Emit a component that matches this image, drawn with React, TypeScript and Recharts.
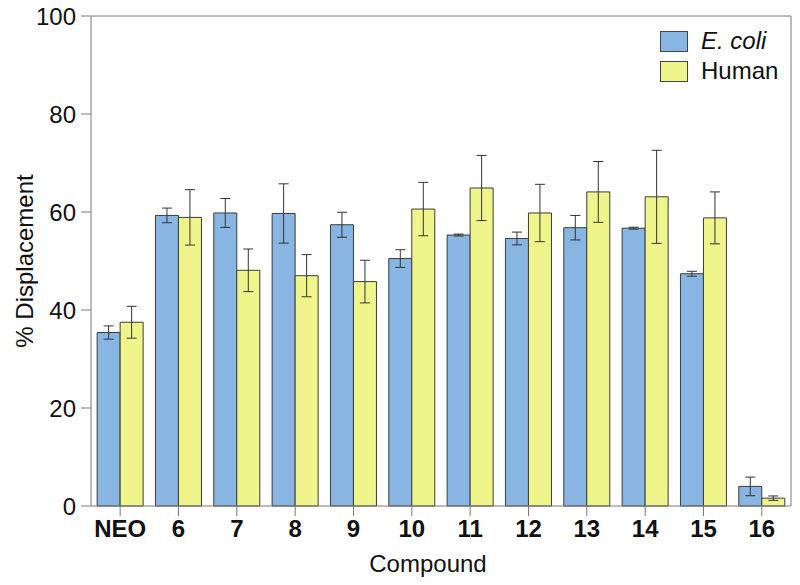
import { BarChart, Bar, XAxis, YAxis, ErrorBar, ReferenceLine, Legend } from 'recharts';

const compounds = ['NEO', '6', '7', '8', '9', '10', '11', '12', '13', '14', '15', '16'];
const ecoli = [35.4, 59.3, 59.8, 59.7, 57.4, 50.5, 55.3, 54.6, 56.8, 56.7, 47.4, 4.0];
const ecoliErr = [1.35, 1.5, 2.95, 6.05, 2.55, 1.8, 0.2, 1.3, 2.5, 0.2, 0.5, 1.9];
const human = [37.5, 58.9, 48.1, 47.0, 45.8, 60.6, 64.9, 59.8, 64.1, 63.1, 58.8, 1.6];
const humanErr = [3.25, 5.65, 4.35, 4.3, 4.35, 5.45, 6.65, 5.85, 6.2, 9.5, 5.3, 0.45];
const yTicks = [0, 20, 40, 60, 80, 100];

const BLUE = '#88b5e2';
const YELLOW = '#eff58a';
const AXIS = '#7a7a7a';
const FONT = '"Liberation Sans", Arial, sans-serif';

const data = compounds.map((c, i) => ({
  name: c,
  ecoli: ecoli[i],
  ecoliErr: ecoliErr[i],
  human: human[i],
  humanErr: humanErr[i],
}));

function LegendBox() {
  const items = [
    { label: 'E. coli', color: BLUE, italic: true },
    { label: 'Human', color: YELLOW, italic: false },
  ];
  return (
    <div style={{ fontFamily: FONT, fontSize: 24, color: '#111' }}>
      {items.map((it) => (
        <div key={it.label} style={{ display: 'flex', alignItems: 'center', height: 30 }}>
          <div
            style={{
              width: 26,
              height: 19,
              background: it.color,
              border: '1px solid #444',
              marginRight: 13,
            }}
          />
          <span style={{ fontStyle: it.italic ? 'italic' : 'normal' }}>{it.label}</span>
        </div>
      ))}
    </div>
  );
}

export default function App() {
  return (
    <div style={{ position: 'absolute', left: 0, top: 0, background: '#fff' }}>
      <BarChart
        width={800}
        height={585}
        data={data}
        margin={{ top: 16, right: 0, left: 0, bottom: 0 }}
        barCategoryGap="10.5%"
        barGap={0}
      >
        <XAxis
          dataKey="name"
          height={79}
          stroke={AXIS}
          tickSize={10}
          tickMargin={4}
          tick={{ fill: '#111', fontSize: 24, fontWeight: 'bold', fontFamily: FONT }}
          label={{
            value: 'Compound',
            position: 'insideBottom',
            offset: 13,
            dx: -13,
            fill: '#111',
            fontSize: 24,
            fontFamily: FONT,
          }}
        />
        <YAxis
          domain={[0, 100]}
          ticks={yTicks}
          width={91}
          stroke={AXIS}
          tickSize={10}
          tickMargin={5}
          tick={{ fill: '#111', fontSize: 24, fontFamily: FONT }}
          label={{
            value: '% Displacement',
            angle: -90,
            position: 'center',
            dx: -21,
            fill: '#111',
            fontSize: 24,
            fontFamily: FONT,
          }}
        />
        <YAxis
          yAxisId="right"
          orientation="right"
          domain={[0, 100]}
          width={9}
          stroke={AXIS}
          tick={false}
          tickLine={false}
        />
        <ReferenceLine y={100} stroke={AXIS} />
        <Legend
          layout="vertical"
          align="center"
          verticalAlign="middle"
          wrapperStyle={{ position: 'absolute', left: 660, top: 26, width: 130 }}
          content={() => <LegendBox />}
        />
        <Bar dataKey="ecoli" name="E. coli" fill={BLUE} stroke="#3c3c3c" strokeWidth={1} isAnimationActive={false}>
          <ErrorBar dataKey="ecoliErr" width={5} stroke="#333" strokeWidth={1} direction="y" />
        </Bar>
        <Bar dataKey="human" name="Human" fill={YELLOW} stroke="#3c3c3c" strokeWidth={1} isAnimationActive={false}>
          <ErrorBar dataKey="humanErr" width={5} stroke="#333" strokeWidth={1} direction="y" />
        </Bar>
      </BarChart>
    </div>
  );
}
